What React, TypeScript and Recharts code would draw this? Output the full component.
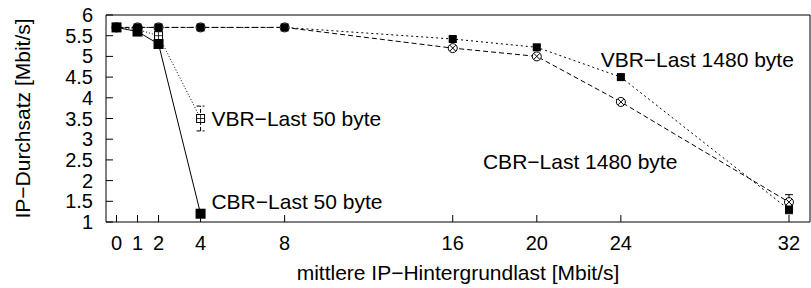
import React from 'react';
import { LineChart, Line, XAxis, YAxis, ErrorBar, ReferenceDot } from 'recharts';

// background load [Mbit/s]
const load50 = [0, 1, 2, 4];
const load1480 = [0, 1, 2, 4, 8, 16, 20, 24, 32];

// IP throughput [Mbit/s]
const cbr50 = [5.7, 5.6, 5.3, 1.2];
const vbr50 = [5.7, 5.65, 5.5, 3.5];
const vbr50Err = [0.03, 0.05, 0.08, 0.3];
const cbr1480 = [5.7, 5.7, 5.7, 5.7, 5.7, 5.2, 5.0, 3.9, 1.48];
const cbr1480Err = [0, 0, 0, 0, 0, 0.04, 0.04, 0.03, 0.18];
const vbr1480 = [5.7, 5.7, 5.7, 5.7, 5.7, 5.42, 5.22, 4.5, 1.3];
const vbr1480Err = [0, 0, 0, 0, 0, 0.05, 0.05, 0.04, 0.1];

const xTicks = [0, 1, 2, 4, 8, 16, 20, 24, 32];
const yTicks = [1, 1.5, 2, 2.5, 3, 3.5, 4, 4.5, 5, 5.5, 6];

// curve labels: [text, x, y]
const curveLabels: [string, number, number][] = [
  ['VBR\u2212Last 50 byte', 4.28, 3.5],
  ['CBR\u2212Last 50 byte', 4.28, 1.5],
  ['VBR\u2212Last 1480 byte', 22.8, 4.92],
  ['CBR\u2212Last 1480 byte', 17.2, 2.45],
];

const FONT = '"Liberation Sans", Arial, sans-serif';

const toRows = (xs: number[], ys: number[], errs?: number[]) =>
  xs.map((x, i) => ({ x, y: ys[i], err: errs ? errs[i] : 0 }));

const BottomTick = (props: any) => {
  const { x, y, payload } = props;
  return (
    <g>
      <line x1={x} y1={y} x2={x} y2={y - 7} stroke="#000" />
      <text x={x} y={y + 21} textAnchor="middle" dominantBaseline="central" fontSize={20} fontFamily={FONT} fill="#000">
        {payload.value}
      </text>
    </g>
  );
};

const TopTick = (props: any) => {
  const { x, y } = props;
  return <line x1={x} y1={y} x2={x} y2={y + 7} stroke="#000" />;
};

const LeftTick = (props: any) => {
  const { x, y, payload } = props;
  return (
    <g>
      <line x1={x} y1={y} x2={x + 7} y2={y} stroke="#000" />
      <text x={x - 13} y={y} textAnchor="end" dominantBaseline="central" fontSize={20} fontFamily={FONT} fill="#000">
        {payload.value}
      </text>
    </g>
  );
};

const RightTick = (props: any) => {
  const { x, y } = props;
  return <line x1={x} y1={y} x2={x - 7} y2={y} stroke="#000" />;
};

const FilledSquare = (size: number) => (props: any) => {
  const { cx, cy, index } = props;
  if (cx == null || cy == null) return <g key={index} />;
  return <rect key={index} x={cx - size / 2} y={cy - size / 2} width={size} height={size} fill="#000" />;
};

const OpenSquare = (props: any) => {
  const { cx, cy, index } = props;
  if (cx == null || cy == null) return <g key={index} />;
  return (
    <g key={index}>
      <rect x={cx - 4} y={cy - 4} width={8} height={8} fill="#fff" stroke="#000" strokeWidth={1} />
      <line x1={cx - 4} y1={cy} x2={cx + 4} y2={cy} stroke="#000" strokeWidth={0.8} />
      <line x1={cx} y1={cy - 4} x2={cx} y2={cy + 4} stroke="#000" strokeWidth={0.8} />
    </g>
  );
};

const CrossCircle = (props: any) => {
  const { cx, cy, index } = props;
  if (cx == null || cy == null) return <g key={index} />;
  const d = 3;
  return (
    <g key={index}>
      <circle cx={cx} cy={cy} r={4.5} fill="#fff" stroke="#000" strokeWidth={1} />
      <line x1={cx - d} y1={cy - d} x2={cx + d} y2={cy + d} stroke="#000" strokeWidth={1} />
      <line x1={cx - d} y1={cy + d} x2={cx + d} y2={cy - d} stroke="#000" strokeWidth={1} />
    </g>
  );
};

const YTitle = (props: any) => {
  const { viewBox } = props;
  const cx = 22;
  const cy = viewBox.y + viewBox.height / 2;
  return (
    <text x={cx} y={cy} transform={`rotate(-90 ${cx} ${cy})`} textAnchor="middle" dominantBaseline="central" fontSize={21} fontFamily={FONT} fill="#000">
      IP{'\u2212'}Durchsatz [Mbit/s]
    </text>
  );
};

const XTitle = (props: any) => {
  const { viewBox } = props;
  const cx = viewBox.x + viewBox.width / 2;
  return (
    <text x={cx} y={272} textAnchor="middle" dominantBaseline="central" fontSize={21} fontFamily={FONT} fill="#000">
      mittlere IP{'\u2212'}Hintergrundlast [Mbit/s]
    </text>
  );
};

export default function App() {
  return (
    <div style={{ position: 'absolute', left: 0, top: 0, background: '#fff' }}>
      <LineChart width={811} height={288} margin={{ top: 0, right: 0, bottom: 0, left: 0 }}>
        <XAxis
          xAxisId="bottom"
          dataKey="x"
          type="number"
          domain={[-0.5, 33]}
          ticks={xTicks}
          orientation="bottom"
          height={66}
          stroke="#000"
          tickLine={false}
          tickSize={0}
          tickMargin={0}
          tick={<BottomTick />}
          interval={0}
          label={<XTitle />}
        />
        <XAxis
          xAxisId="top"
          type="number"
          domain={[-0.5, 33]}
          ticks={xTicks}
          orientation="top"
          height={15}
          stroke="#000"
          tickLine={false}
          tickSize={0}
          tickMargin={0}
          tick={<TopTick />}
          interval={0}
        />
        <YAxis
          yAxisId="left"
          type="number"
          domain={[1, 6]}
          ticks={yTicks}
          width={106}
          stroke="#000"
          tickLine={false}
          tickSize={0}
          tickMargin={0}
          tick={<LeftTick />}
          interval={0}
          label={<YTitle />}
        />
        <YAxis
          yAxisId="right"
          orientation="right"
          type="number"
          domain={[1, 6]}
          ticks={yTicks}
          width={1}
          stroke="#000"
          tickLine={false}
          tickSize={0}
          tickMargin={0}
          tick={<RightTick />}
          interval={0}
        />

        <Line
          xAxisId="bottom"
          yAxisId="left"
          data={toRows(load1480, cbr1480, cbr1480Err)}
          dataKey="y"
          stroke="#000"
          strokeWidth={1}
          strokeDasharray="5 3"
          dot={CrossCircle}
          isAnimationActive={false}
        >
          <ErrorBar dataKey="err" direction="y" width={4} stroke="#000" strokeWidth={1} />
        </Line>
        <Line
          xAxisId="bottom"
          yAxisId="left"
          data={toRows(load50, vbr50, vbr50Err)}
          dataKey="y"
          stroke="#000"
          strokeWidth={1}
          strokeDasharray="1 2"
          dot={OpenSquare}
          isAnimationActive={false}
        >
          <ErrorBar dataKey="err" direction="y" width={4} stroke="#000" strokeWidth={1} strokeDasharray="4 2" />
        </Line>
        <Line
          xAxisId="bottom"
          yAxisId="left"
          data={toRows(load1480, vbr1480, vbr1480Err)}
          dataKey="y"
          stroke="#000"
          strokeWidth={1}
          strokeDasharray="2 3"
          dot={FilledSquare(8)}
          isAnimationActive={false}
        >
          <ErrorBar dataKey="err" direction="y" width={4} stroke="#000" strokeWidth={1} />
        </Line>
        <Line
          xAxisId="bottom"
          yAxisId="left"
          data={toRows(load50, cbr50)}
          dataKey="y"
          stroke="#000"
          strokeWidth={1}
          dot={FilledSquare(10)}
          isAnimationActive={false}
        />

        {curveLabels.map(([text, x, y]) => (
          <ReferenceDot
            key={text}
            xAxisId="bottom"
            yAxisId="left"
            x={x}
            y={y}
            r={0}
            stroke="none"
            fill="none"
            label={{ value: text, position: 'right', offset: 5, fontSize: 21, fontFamily: FONT, fill: '#000' }}
          />
        ))}
      </LineChart>
    </div>
  );
}
